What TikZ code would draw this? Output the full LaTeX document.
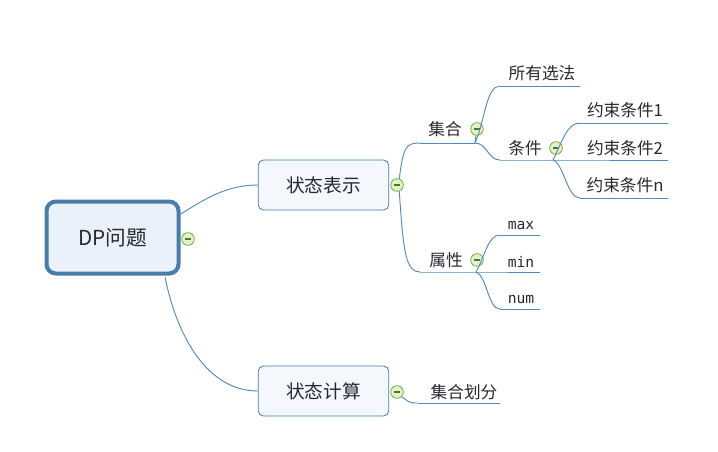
\documentclass[tikz,border=0pt]{standalone}
\usepackage{fontspec}
\usepackage{xcolor}
\usepackage{tikz}
\usetikzlibrary{positioning}
\setmainfont{Noto Sans CJK SC}
\newfontfamily\codefont{DejaVu Sans Mono}
\definecolor{linkblue}{RGB}{80, 138, 188}
\definecolor{boxedge}{RGB}{72, 125, 170}
\definecolor{rootbg}{RGB}{234, 241, 250}
\definecolor{boxbg}{RGB}{244, 247, 252}
\definecolor{foldgreen}{RGB}{112, 172, 62}
\definecolor{foldbg}{RGB}{226, 241, 204}
\definecolor{textdark}{RGB}{40, 40, 48}

\begin{document}
\begin{tikzpicture}[
  x=0.75pt, y=-0.75pt,
  rootbox/.style={draw=boxedge, line width=3pt, fill=rootbg,
                  rounded corners=7pt, minimum width=99pt, minimum height=54pt,
                  font=\fontsize{15.5}{18}\selectfont, text=textdark},
  mainbox/.style={draw=boxedge, line width=0.6pt, fill=boxbg,
                  rounded corners=4pt, minimum width=98pt, minimum height=37.5pt,
                  font=\fontsize{14}{17}\selectfont, text=textdark},
  topic/.style={inner sep=0pt, font=\fontsize{12.5}{15}\selectfont, text=textdark},
  codetopic/.style={inner sep=0pt, font=\codefont\fontsize{11}{13}\selectfont, text=textdark},
  fold/.style={circle, draw=foldgreen, fill=foldbg, minimum size=9.5pt, inner sep=0pt,
               line width=0.6pt,
               path picture={\draw[foldgreen!70!black, line width=0.8pt]
                 ([xshift=-2.4pt]path picture bounding box.center) --
                 ([xshift=2.4pt]path picture bounding box.center);}},
  link/.style={draw=linkblue, line width=0.7pt}
]
  \useasboundingbox (0,0) rectangle (718,451);

  % ── Main boxes ─────────────────────────────────────────────────────────────
  \node[rootbox] (dp)   at (112.5,237.5) {DP问题};
  \node[fold]    (f-dp) at (188,239) {};

  \node[mainbox] (rep)    at (323.5,185) {状态表示};
  \node[fold]    (f-rep)  at (397,185) {};
  \node[mainbox] (calc)   at (323.5,391) {状态计算};
  \node[fold]    (f-calc) at (397,392) {};

  % ── Topics ─────────────────────────────────────────────────────────────────
  \node[topic] (jihe)   at (445,129) {集合};
  \node[fold]  (f-jihe) at (477,129) {};
  \node[topic] (suoyou) at (542,73)  {所有选法};
  \node[topic] (tj)     at (525,148) {条件};
  \node[fold]  (f-tj)   at (556,148) {};
  \node[topic] (ys1)    at (625,110) {约束条件1};
  \node[topic] (ys2)    at (625,148) {约束条件2};
  \node[topic] (ysn)    at (625,185) {约束条件n};

  \node[topic] (sx)   at (446,260) {属性};
  \node[fold]  (f-sx) at (477,260) {};
  \node[codetopic] (max) at (521,225) {max};
  \node[codetopic] (min) at (521,262) {min};
  \node[codetopic] (num) at (521,299) {num};

  \node[topic] (hf) at (464,392) {集合划分};

  % ── Underline ends ─────────────────────────────────────────────────────────
  \coordinate (dp-t)     at (181,214);
  \coordinate (dp-b)     at (165,277);
  \coordinate (jihe-l)   at (420,143);
  \coordinate (jihe-r)   at (475,143);
  \coordinate (suoyou-l) at (500,86);
  \coordinate (suoyou-r) at (580,86);
  \coordinate (tj-l)     at (500,160);
  \coordinate (tj-r)     at (553,160);
  \coordinate (ys1-l)    at (580,123);
  \coordinate (ys1-r)    at (668,123);
  \coordinate (ys2-r)    at (668,160);
  \coordinate (ysn-l)    at (580,198);
  \coordinate (ysn-r)    at (668,198);
  \coordinate (sx-l)     at (420,272);
  \coordinate (sx-r)     at (476,272);
  \coordinate (max-l)    at (500,235);
  \coordinate (max-r)    at (540,235);
  \coordinate (min-r)    at (540,272);
  \coordinate (num-l)    at (500,309);
  \coordinate (num-r)    at (540,309);
  \coordinate (hf-l)     at (418,403);
  \coordinate (hf-r)     at (500,403);

  \draw[link] (jihe-l) -- (jihe-r);
  \draw[link] (suoyou-l) -- (suoyou-r);
  \draw[link] (tj-l) -- (tj-r) -- (ys2-r);
  \draw[link] (ys1-l) -- (ys1-r);
  \draw[link] (ysn-l) -- (ysn-r);
  \draw[link] (sx-l) -- (sx-r) -- (min-r);
  \draw[link] (max-l) -- (max-r);
  \draw[link] (num-l) -- (num-r);
  \draw[link] (hf-l) -- (hf-r);

  % ── Connections ────────────────────────────────────────────────────────────
  \draw[link] (dp-t) .. controls +(25,-16) and +(-30,0) .. (rep.west);
  \draw[link] (dp-b) .. controls +(12,60) and +(-50,0) .. (calc.west);

  \draw[link] (f-rep.70) .. controls +(4,-32) and +(-14,0) .. (jihe-l);
  \draw[link] (f-rep.-70) .. controls +(4,62) and +(-14,0) .. (sx-l);
  \draw[link] (f-calc.-45) .. controls +(8,6) and +(-8,0) .. (hf-l);

  \draw[link] (jihe-r) .. controls +(10,-22) and +(-14,0) .. (suoyou-l);
  \draw[link] (jihe-r) .. controls +(12,0) and +(-12,0) .. (tj-l);
  \draw[link] (f-jihe.-100) -- (jihe-r);

  \draw[link] (tj-r) .. controls +(9,-18) and +(-13,0) .. (ys1-l);
  \draw[link] (tj-r) .. controls +(11,4) and +(-13,0) .. (ysn-l);

  \draw[link] (sx-r) .. controls +(9,-16) and +(-12,0) .. (max-l);
  \draw[link] (sx-r) .. controls +(11,4) and +(-12,0) .. (num-l);
\end{tikzpicture}
\end{document}
